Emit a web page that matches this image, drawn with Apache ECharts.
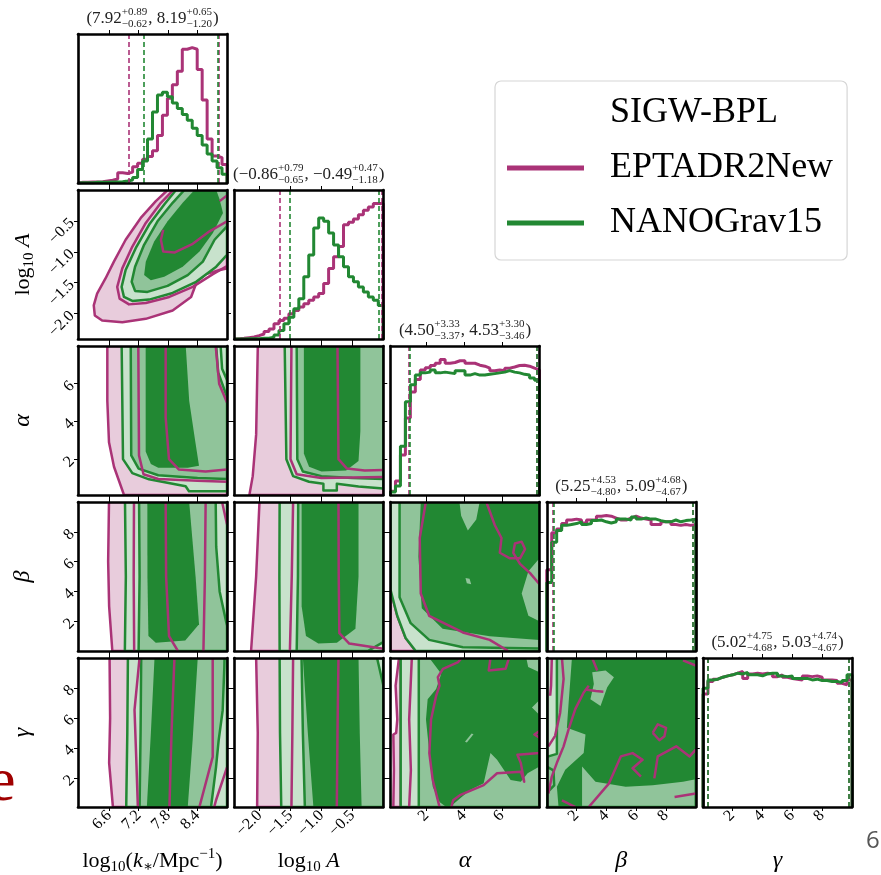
<!DOCTYPE html>
<html>
<head>
<meta charset="utf-8">
<script src="https://cdn.jsdelivr.net/npm/echarts@6/dist/echarts.min.js"></script>
<style>
  html, body { margin: 0; padding: 0; background: #fff; }
  #chart { width: 881px; height: 875px; }
</style>
</head>
<body>
<div id="chart"></div>
<script>
// -----------------------------
// DATA
// -----------------------------
const paramNames = ["logk", "logA", "alpha", "beta", "gamma"];
const ranges = [[5.966, 9.0], [-2.41, 0.0], [0.1, 8.0], [0.0, 10.0], [0.05, 10.0]];
const tickValues = [
  [6.6, 7.2, 7.8, 8.4],
  [-2.0, -1.5, -1.0, -0.5],
  [2, 4, 6],
  [2, 4, 6, 8],
  [2, 4, 6, 8]
];
const tickDecimals = [1, 1, 0, 0, 0];

// median, +err, -err  (first = NANOGrav15, second = EPTADR2New)
const statsNano = [[7.92, 0.89, 0.62], [-0.86, 0.79, 0.65], [4.50, 3.33, 3.37], [5.25, 4.53, 4.80], [5.02, 4.75, 4.68]];
const statsEpta = [[8.19, 0.65, 1.20], [-0.49, 0.47, 1.18], [4.53, 3.30, 3.46], [5.09, 4.68, 4.67], [5.03, 4.74, 4.67]];

// 1D histograms, 30 bins over each range
const histEpta_logk = [2, 2, 3, 3, 4, 6, 8, 12, 30, 28, 32, 48, 58, 70, 78, 95, 140, 200, 250, 290, 330, 395, 400, 395, 335, 245, 130, 80, 75, 55];
const histNano_logk = [1, 1, 1, 2, 2, 2, 3, 3, 4, 6, 9, 16, 40, 65, 130, 210, 260, 268, 255, 236, 220, 202, 185, 162, 140, 112, 86, 65, 45, 26];
const histEpta_logA = [1, 2, 4, 6, 10, 15, 22, 30, 45, 55, 62, 75, 85, 95, 105, 115, 125, 135, 165, 210, 245, 275, 340, 347, 357, 370, 383, 393, 403, 403];
const histNano_logA = [0, 0, 1, 1, 1, 2, 2, 5, 12, 25, 45, 65, 90, 120, 185, 250, 330, 360, 350, 315, 280, 245, 215, 185, 170, 155, 140, 125, 115, 100];
const histEpta_alpha = [2.5, 9.5, 27, 52, 69.5, 78, 84.5, 86, 87.5, 89, 91.5, 89, 89.5, 90.7, 90.7, 89, 89, 87.7, 87, 85.7, 84, 84.5, 84, 85.7, 86.5, 87.5, 87.7, 87, 85.7, 84.5];
const histNano_alpha = [2, 6, 33, 63, 74.5, 81, 82.5, 83, 84.5, 82.5, 83, 82.5, 82, 84, 84, 81, 82, 81, 81, 81.5, 82, 82.5, 83, 84, 83, 82.5, 81.5, 81, 79, 77.5];
const histEpta_beta = [54.6, 79.4, 82, 85.6, 88, 88.6, 88, 86, 88, 88, 90.6, 91, 90.6, 89.3, 88, 88, 89.3, 90.6, 89.3, 88.6, 88, 85, 85, 86.8, 86.8, 85, 84.4, 85, 84.4, 85];
const histNano_beta = [46, 73, 81, 84.4, 85, 85.6, 86.8, 85, 85.6, 87.6, 88, 86.8, 86, 86.8, 88.6, 88.6, 88, 90, 88.6, 89.3, 88.6, 88.6, 87.6, 86.8, 86.8, 88, 86.8, 87.6, 88, 88.6];
const histEpta_gamma = [75.6, 84, 85.5, 86.8, 87.7, 88.4, 89.5, 90.6, 86, 89, 89.5, 89, 89.5, 89, 87.2, 88.4, 86.8, 86, 85.5, 85, 87.7, 87.2, 87.7, 86.8, 85, 85, 84.6, 82.8, 81.7, 85];
const histNano_gamma = [79.4, 85, 85.5, 86.8, 87.7, 88.4, 89.5, 89, 90, 88.4, 88.4, 87.7, 89, 89.5, 89.5, 87.7, 87.2, 87.7, 86, 86, 86, 85, 85.5, 84.6, 84.6, 84, 84, 83.2, 84.6, 88.4];

// 2D contours: [x, y] vertices in data units
// row logA / col logk
const A_k_pink = [[7.790, 0], [7.551, -0.180], [7.244, -0.452], [6.936, -0.805], [6.697, -1.159], [6.526, -1.431], [6.355, -1.676], [6.287, -1.866], [6.308, -2.029], [6.458, -2.111], [6.868, -2.138], [7.346, -2.084], [7.893, -1.948], [8.269, -1.730], [8.385, -1.485], [8.576, -1.360], [8.850, -1.295], [9.0, -1.268], [9.0, 0]];
const A_k_green = [
  [[7.961, 0], [7.722, -0.234], [7.415, -0.560], [7.141, -0.941], [6.936, -1.295], [6.854, -1.567], [6.902, -1.730], [7.073, -1.795], [7.415, -1.773], [7.893, -1.665], [8.371, -1.485], [8.781, -1.240], [9.0, -1.050], [9.0, 0]],
  [[8.132, 0], [7.893, -0.207], [7.585, -0.506], [7.312, -0.887], [7.128, -1.240], [7.059, -1.485], [7.128, -1.632], [7.380, -1.648], [7.790, -1.550], [8.200, -1.376], [8.508, -1.159], [8.747, -0.805], [9.0, -0.588], [9.0, 0]],
  [[8.337, 0], [8.098, -0.207], [7.790, -0.506], [7.517, -0.832], [7.346, -1.159], [7.312, -1.376], [7.449, -1.458], [7.722, -1.404], [8.098, -1.240], [8.440, -0.996], [8.713, -0.696], [8.918, -0.370], [8.850, -0.152], [8.781, 0]]
];
const A_k_pinkLines = [
  [[7.907, 0], [7.654, -0.207], [7.346, -0.533], [7.073, -0.914], [6.868, -1.268], [6.765, -1.567], [6.813, -1.757], [7.005, -1.850], [7.346, -1.828], [7.825, -1.730], [8.303, -1.567], [8.713, -1.360], [9.0, -1.229]],
  [[7.702, -0.642], [7.654, -0.805], [7.702, -0.996], [7.927, -1.012], [8.303, -0.870], [8.645, -0.669], [9.0, -0.506]],
  [[8.850, -0.180], [9.0, -0.087]]
];

// row alpha / col logk
const a_k_pink = [[6.563, 8], [6.563, 5.1], [6.597, 2.9], [6.699, 1.6], [6.903, 0.1], [9, 0.1], [9, 8]];
const a_k_green = [
  [[6.855, 8], [6.882, 2.0], [7.072, 1.26], [7.412, 0.93], [8.158, 0.56], [8.226, 0.30], [9, 0.30], [9, 8]],
  [[7.04, 8], [7.05, 2.2], [7.2, 1.5], [7.6, 1.15], [8.4, 1.0], [9, 0.95], [9, 5.3], [8.82, 6.6], [8.78, 8]],
  [[7.344, 8], [7.344, 2.4], [7.45, 1.75], [7.6, 1.55], [8.2, 1.55], [8.43, 1.65], [8.35, 3.0], [8.23, 5.1], [8.16, 8]]
];
const a_k_pinkLines = [
  [[7.194, 8], [7.208, 2.2], [7.30, 1.2], [7.6, 0.95], [8.4, 0.85], [9, 0.8]],
  [[8.77, 8], [8.84, 6.0], [9, 5.0]],
  [[7.751, 8], [7.751, 4.2], [7.819, 2.0], [8.022, 1.45], [8.565, 1.35], [9, 1.45]]
];
const a_k_greenLines = [[[8.87, 8], [8.9, 6.8], [9, 6.2]]];

// row alpha / col logA
const a_A_pink = [[-2.029, 8], [-2.056, 3.3], [-2.111, 1.1], [-2.165, 0.1], [0, 0.1], [0, 8]];
const a_A_green = [
  [[-1.594, 8], [-1.567, 2.0], [-1.458, 1.1], [-1.2, 0.8], [-0.968, 0.7], [-0.968, 0.34], [-0.751, 0.34], [-0.751, 0.7], [-0.4, 0.55], [0, 0.45], [0, 8]],
  [[-1.40, 8], [-1.39, 2.0], [-1.30, 1.35], [-1.0, 1.1], [-0.5, 1.0], [0, 0.95], [0, 8]],
  [[-1.284, 8], [-1.284, 2.3], [-1.20, 1.6], [-1.0, 1.35], [-0.6, 1.4], [-0.40, 1.9], [-0.37, 3.5], [-0.37, 8]]
];
const a_A_pinkLines = [
  [[-1.485, 8], [-1.50, 2.0], [-1.40, 1.2], [-1.0, 1.0], [0, 1.05]],
  [[-0.74, 8], [-0.724, 2.0], [-0.588, 1.5], [-0.3, 1.4], [0, 1.42]]
];

// row beta / col logk
const b_k_pink = [[6.597, 10], [6.58, 6], [6.60, 3], [6.665, 0], [9, 0], [9, 10]];
const b_k_green = [
  [[6.923, 10], [6.94, 5], [6.92, 0], [9, 0], [9, 10]],
  [[7.21, 10], [7.22, 5], [7.20, 0], [9, 0], [9, 1.7], [8.85, 4.0], [8.78, 7], [8.77, 10]],
  [[7.378, 10], [7.38, 5], [7.40, 1.0], [7.55, 0.55], [8.15, 0.7], [8.43, 1.8], [8.36, 5], [8.23, 10]]
];
const b_k_pinkLines = [
  [[7.106, 10], [7.10, 5], [7.11, 0]],
  [[8.565, 10], [8.55, 5], [8.52, 0]],
  [[7.751, 10], [7.76, 5], [7.82, 1.0], [8.0, 0]],
  [[8.90, 10], [9, 8.5]]
];

// row beta / col logA
const b_A_pink = [[-2.002, 10], [-2.056, 5], [-2.138, 0], [0, 0], [0, 10]];
const b_A_green = [
  [[-1.676, 10], [-1.68, 5], [-1.676, 0], [0, 0], [0, 10]],
  [[-1.376, 10], [-1.38, 5], [-1.40, 0], [-0.25, 0], [0, 0.6], [0, 10]],
  [[-1.32, 10], [-1.32, 3], [-1.25, 1.0], [-1.05, 0.5], [-0.75, 0.55], [-0.45, 1.5], [-0.40, 5], [-0.40, 10]]
];
const b_A_pinkLines = [
  [[-1.458, 10], [-1.48, 5], [-1.51, 0]],
  [[-0.724, 10], [-0.72, 5], [-0.71, 1.2], [-0.55, 0.5], [0, 0.15]]
];

// row beta / col alpha
const b_a_pink = [[0.1, 4.104], [0.457, 2.363], [0.902, 0.871], [1.437, 0], [0.1, 0]];
const b_a_green = [
  [[0.1, 10], [0.1, 4.104], [0.457, 2.363], [0.902, 0.871], [1.437, 0], [8, 0], [8, 10]],
  [[0.581, 10], [0.581, 3.607], [1.170, 1.866], [2.151, 0.746], [3.934, 0.249], [8, 0.174], [8, 10]],
  [[1.705, 10], [1.580, 6.343], [1.758, 2.861], [2.864, 1.493], [5.361, 0.995], [8, 0.746], [8, 1.990], [7.412, 2.363], [7.055, 3.856], [7.412, 5.348], [8, 6.219], [8, 10], [4.826, 10], [4.647, 8.831], [4.202, 8.085], [3.845, 9.080], [3.756, 10]]
];
const b_a_patch = [[[4.077, 4.900], [4.291, 4.851], [4.380, 4.478], [4.148, 4.552]]];
const b_a_pinkLines = [
  [[1.972, 10], [1.651, 7.587], [1.705, 3.856], [2.151, 2.363], [3.934, 1.244], [5.361, 0.746], [6.342, 0]],
  [[5.182, 10], [5.628, 8.458], [5.985, 7.587], [5.896, 6.592], [6.431, 6.219], [6.966, 6.219], [7.233, 6.841], [7.055, 7.338], [6.698, 7.214], [6.609, 6.592], [6.966, 5.846], [7.501, 5.224], [8, 4.478]]
];

// row gamma / col logk
const g_k_pink = [[6.609, 10], [6.62, 6], [6.60, 3], [6.677, 0.05], [9, 0.05], [9, 10]];
const g_k_green = [
  [[6.982, 10], [6.97, 5], [6.948, 0.05], [9, 0.05], [9, 10]],
  [[7.253, 10], [7.24, 5], [7.22, 0.05], [8.675, 0.05], [8.776, 2.7], [8.83, 4.5], [8.912, 6.5], [8.946, 9.4], [8.95, 10]],
  [[7.524, 10], [7.45, 5], [7.368, 0.05], [8.201, 0.05], [8.30, 4.5], [8.404, 10]]
];
const g_k_pinkLines = [
  [[7.219, 10], [7.117, 6.53], [7.151, 3.4], [7.185, 0.05]],
  [[8.709, 10], [8.709, 3.4], [8.438, 0.05]],
  [[7.930, 10], [7.87, 5], [7.828, 0.05]],
  [[9, 2.7], [8.776, 0.5], [8.74, 0.05]]
];

// row gamma / col logA
const g_A_pink = [[-2.056, 10], [-2.03, 5], [-2.04, 0.05], [0, 0.05], [0, 10]];
const g_A_green = [
  [[-1.676, 10], [-1.67, 5], [-1.65, 0.05], [0, 0.05], [0, 10]],
  [[-1.322, 10], [-1.30, 5], [-1.268, 0.05], [0, 0.05], [0, 8.2], [-0.10, 10]],
  [[-1.30, 10], [-1.22, 5], [-1.13, 0.05], [-0.35, 0.05], [-0.38, 5], [-0.40, 10]]
];
const g_A_pinkLines = [
  [[-1.458, 10], [-1.47, 5], [-1.485, 0.05]],
  [[-0.724, 10], [-0.74, 5], [-0.751, 0.05]]
];

// row gamma / col alpha
const g_a_pink = [[0.55, 10], [0.37, 8.15], [0.46, 5.9], [0.40, 5.0], [0.25, 4.89], [0.28, 2.5], [0.25, 0.05], [0.64, 0.05], [0.64, 10]];
const g_a_green = [
  [[0.64, 10], [8, 10], [8, 0.05], [0.64, 0.05]],
  [[1.6, 10], [8, 10], [8, 0.05], [1.6, 0.05]],
  [[2.16, 10], [2.79, 8.94], [2.52, 7.93], [2.07, 7.25], [1.98, 5.90], [2.16, 3.65], [2.34, 1.40], [2.70, 0.39], [3.06, 0.05], [3.25, 0.05], [4.32, 1.18], [5.04, 1.63], [5.40, 3.65], [5.75, 3.20], [6.47, 1.85], [7.01, 1.74], [7.37, 2.30], [8, 2.75], [8, 6.2], [7.6, 6.7], [8, 7.2], [8, 9.05], [7.4, 9.4], [7.3, 10]]
];
const g_a_patch = [[[4.05, 4.4], [4.4, 4.95], [4.5, 4.9], [4.15, 4.35]]];
const g_a_pinkLines = [
  [[1.23, 10], [1.09, 5.9], [1.18, 2.5], [1.09, 0.05]],
  [[3.87, 10], [3.69, 9.73], [2.88, 9.28], [2.61, 8.72], [2.70, 8.15], [2.52, 7.48], [2.25, 5.90], [2.16, 3.65], [2.34, 1.85], [2.61, 0.50], [2.7, 0.05]],
  [[5.40, 10], [5.31, 9.17], [6.20, 9.28], [6.38, 10]],
  [[8, 5.12], [7.73, 4.89], [8, 4.67]],
  [[8, 3.65], [6.83, 3.54], [7.01, 2.98], [7.19, 1.74], [7.01, 2.41], [5.75, 2.30], [5.04, 1.51], [3.78, 0.84], [3.42, 0.50], [3.33, 0.05]]
];

// row gamma / col beta
const g_b_green = [
  [[0, 10], [10, 10], [10, 0.05], [0, 0.05]],
  [[0.68, 10], [10, 10], [10, 0.05], [0, 0.05], [0, 3.4], [0.68, 3.6]],
  [[1.69, 10], [1.47, 7.03], [1.35, 5.34], [2.60, 4.89], [2.48, 3.65], [1.24, 2.53], [0.68, 1.40], [0.79, 0.05], [2.37, 0.05], [2.37, 2.75], [3.27, 1.74], [5.30, 1.40], [7.11, 1.51], [9.14, 1.74], [10, 1.90], [10, 10]]
];
const g_b_patch = [[[3.05, 9.05], [3.95, 9.17], [4.51, 8.72], [4.06, 8.04], [3.61, 6.80], [2.93, 7.25], [3.16, 8.27]]];
const g_b_greenLines = [[[0, 2.75], [0.45, 2.5], [0.5, 1.5], [0, 1.0]]];
const g_b_pinkLines = [
  [[0.34, 10], [0.29, 8.15], [0.23, 7.48]],
  [[1.02, 10], [1.13, 8.6], [0.9, 6.35], [0.56, 4.8], [0.11, 4.1]],
  [[3.05, 10], [3.39, 9.17]],
  [[2.82, 8.15], [2.48, 7.7], [1.92, 6.6], [1.47, 5.25], [1.13, 4.1], [0.68, 3.0], [0.34, 2.08], [0.11, 0.95]],
  [[2.6, 7.9], [3.3, 7.8], [3.8, 7.75]],
  [[7.11, 5.0], [7.45, 5.57], [8.01, 5.34], [7.9, 4.78], [7.56, 4.51], [7.22, 4.89], [7.11, 5.0]],
  [[2.82, 0.05], [4.18, 1.63], [4.97, 3.43], [5.76, 3.65], [6.43, 3.20], [5.76, 2.64], [6.32, 2.08]],
  [[7.22, 1.96], [7.45, 3.43], [8.69, 4.10], [9.59, 3.43], [10, 3.88]],
  [[8.58, 0.72], [10, 0.95]],
  [[9.14, 9.84], [10, 9.5]],
  [[1.02, 0.5], [1.92, 0.05]]
];

// -----------------------------
// STYLE
// -----------------------------
const SERIF = '"Liberation Serif", "DejaVu Serif", serif';
const PINK = "#AA3377";
const GREEN = "#228833";
const PINK_FILL = "#e8ccdc";
const G_LIGHT = "#c8e2cc";
const G_MID = "#90c49a";
const G_DARK = "#228833";

const CELL = 149;
const cellLeft = c => 78 + c * 156.25;
const cellTop = r => 34 + r * 156;

const histEpta = [histEpta_logk, histEpta_logA, histEpta_alpha, histEpta_beta, histEpta_gamma];
const histNano = [histNano_logk, histNano_logA, histNano_alpha, histNano_beta, histNano_gamma];

const panels = [
  { r: 1, c: 0, pink: A_k_pink, green: A_k_green, pinkLines: A_k_pinkLines },
  { r: 2, c: 0, pink: a_k_pink, green: a_k_green, pinkLines: a_k_pinkLines, greenLines: a_k_greenLines },
  { r: 2, c: 1, pink: a_A_pink, green: a_A_green, pinkLines: a_A_pinkLines },
  { r: 3, c: 0, pink: b_k_pink, green: b_k_green, pinkLines: b_k_pinkLines },
  { r: 3, c: 1, pink: b_A_pink, green: b_A_green, pinkLines: b_A_pinkLines },
  { r: 3, c: 2, pink: b_a_pink, green: b_a_green, patch: b_a_patch, pinkLines: b_a_pinkLines },
  { r: 4, c: 0, pink: g_k_pink, green: g_k_green, pinkLines: g_k_pinkLines },
  { r: 4, c: 1, pink: g_A_pink, green: g_A_green, pinkLines: g_A_pinkLines },
  { r: 4, c: 2, pink: g_a_pink, green: g_a_green, patch: g_a_patch, pinkLines: g_a_pinkLines },
  { r: 4, c: 3, pink: [], green: g_b_green, patch: g_b_patch, pinkLines: g_b_pinkLines, greenLines: g_b_greenLines }
];

const richName = {
  r: { fontFamily: SERIF, fontSize: 22, lineHeight: 28, color: "#000" },
  i: { fontFamily: SERIF, fontSize: 22, fontStyle: "italic", lineHeight: 28, color: "#000" },
  g: { fontFamily: SERIF, fontSize: 24, fontStyle: "italic", lineHeight: 28, color: "#000" },
  sub: { fontFamily: SERIF, fontSize: 15, lineHeight: 15, verticalAlign: "bottom", color: "#000" },
  sup: { fontFamily: SERIF, fontSize: 15, lineHeight: 15, verticalAlign: "top", color: "#000" }
};
const axisNames = [
  "{r|log}{sub|10}{r|(}{i|k}{sub|∗}{r|/Mpc}{sup|−1}{r|)}",
  "{r|log}{sub|10}{r| }{i|A}",
  "{g|α}",
  "{g|β}",
  "{g|γ}"
];

const fmtTick = c => v => {
  const s = Math.abs(v).toFixed(tickDecimals[c]);
  return v < 0 ? "−" + s : s;
};

// -----------------------------
// BUILD
// -----------------------------
const grids = [], xAxes = [], yAxes = [], series = [];

function stepPoints(counts, range) {
  const w = (range[1] - range[0]) / counts.length;
  const pts = [[range[0], 0]];
  counts.forEach((v, k) => {
    pts.push([range[0] + k * w, v], [range[0] + (k + 1) * w, v]);
  });
  pts.push([range[1], 0]);
  return pts;
}

function addCell(r, c, yRange, diag) {
  const g = grids.length;
  grids.push({ left: cellLeft(c), top: cellTop(r), width: CELL, height: CELL, containLabel: false, outerBoundsMode: "none" });

  const frame = { show: true, onZero: false, lineStyle: { color: "#000", width: 2.6 } };
  const bottomRow = r === 4;
  const xCommon = {
    gridIndex: g, type: "value", min: ranges[c][0], max: ranges[c][1], z: 10,
    splitLine: { show: false }, axisLine: frame,
    axisTick: { show: true, inside: false, length: 4, customValues: tickValues[c], lineStyle: { color: "#000", width: 1 } }
  };
  const xb = xAxes.length;
  xAxes.push(Object.assign({}, xCommon, {
    position: "bottom",
    axisLabel: {
      show: bottomRow, customValues: tickValues[c], rotate: 45, margin: 6,
      formatter: fmtTick(c), fontFamily: SERIF, fontSize: 16, color: "#000"
    },
    name: bottomRow ? axisNames[c] : "",
    nameLocation: "middle", nameGap: 40,
    nameTextStyle: { rich: richName }
  }));
  xAxes.push(Object.assign({}, xCommon, { position: "top", axisLabel: { show: false } }));

  const leftCol = c === 0 && !diag;
  const yCommon = {
    gridIndex: g, type: "value", min: yRange[0], max: yRange[1], z: 10,
    splitLine: { show: false }, axisLine: frame,
    axisTick: diag ? { show: false } : { show: true, inside: false, length: 4, customValues: tickValues[r], lineStyle: { color: "#000", width: 1 } }
  };
  const yl = yAxes.length;
  yAxes.push(Object.assign({}, yCommon, {
    position: "left",
    axisLabel: leftCol ? {
      show: true, customValues: tickValues[r], rotate: 45, margin: 6,
      formatter: fmtTick(r), fontFamily: SERIF, fontSize: 16, color: "#000"
    } : { show: false },
    name: leftCol ? axisNames[r] : "",
    nameLocation: "middle", nameGap: 41,
    nameTextStyle: { rich: richName }
  }));
  yAxes.push(Object.assign({}, yCommon, { position: "right", axisLabel: { show: false } }));
  return { xb, yl };
}

// diagonal histograms
for (let i = 0; i < 5; i++) {
  const ymax = 1.1 * Math.max(...histEpta[i], ...histNano[i]);
  const ax = addCell(i, i, [0, ymax], true);
  [[histEpta[i], PINK, "EPTADR2New", statsEpta[i]], [histNano[i], GREEN, "NANOGrav15", statsNano[i]]].forEach(([h, col, name, st]) => {
    series.push({
      type: "line", name, xAxisIndex: ax.xb, yAxisIndex: ax.yl,
      data: stepPoints(h, ranges[i]), showSymbol: false, symbol: "none",
      color: col, lineStyle: { color: col, width: 3 }, z: 4, silent: true,
      markLine: {
        silent: true, symbol: ["none", "none"], label: { show: false },
        lineStyle: { color: col, type: [5, 3], width: 1.6 },
        data: [{ xAxis: st[0] - st[2] }, { xAxis: st[0] + st[1] }]
      }
    });
  });
}

// 2D panels
panels.forEach(p => {
  const ax = addCell(p.r, p.c, ranges[p.r], false);
  const shapes = [];
  if (p.pink.length) shapes.push({ pts: p.pink, fill: PINK_FILL, stroke: PINK });
  shapes.push({ pts: p.green[0], fill: G_LIGHT, stroke: GREEN });
  shapes.push({ pts: p.green[1], fill: G_MID, stroke: GREEN });
  shapes.push({ pts: p.green[2], fill: G_DARK });
  (p.patch || []).forEach(q => shapes.push({ pts: q, fill: G_MID }));
  (p.greenLines || []).forEach(q => shapes.push({ pts: q, stroke: GREEN }));
  p.pinkLines.forEach(q => shapes.push({ pts: q, stroke: PINK }));

  series.push({
    type: "custom", name: "contours", xAxisIndex: ax.xb, yAxisIndex: ax.yl,
    clip: true, silent: true, z: 2,
    data: shapes.map(s => s.pts[0]),
    renderItem: (params, api) => {
      const s = shapes[params.dataIndex];
      const pts = s.pts.map(v => api.coord(v));
      if (s.fill) {
        return {
          type: "polygon", shape: { points: pts },
          style: { fill: s.fill, stroke: s.stroke || null, lineWidth: s.stroke ? 2.5 : 0, lineJoin: "round" }
        };
      }
      return { type: "polyline", shape: { points: pts }, style: { fill: null, stroke: s.stroke, lineWidth: 2.5, lineJoin: "round" } };
    }
  });
});

series.push({ type: "line", name: "SIGW-BPL", xAxisIndex: 0, yAxisIndex: 0, data: [] });

// titles above the diagonal
const measureCtx = document.createElement("canvas").getContext("2d");
function textWidth(s, size) {
  measureCtx.font = size + "px " + SERIF;
  return measureCtx.measureText(s).width;
}
const fmtNum = v => (v < 0 ? "−" : "") + Math.abs(v).toFixed(2);

function titleGraphic(c) {
  const MAIN = 17, SCR = 11;
  const a = statsNano[c], b = statsEpta[c];
  const parts = [
    { main: "(" + fmtNum(a[0]), up: "+" + a[1].toFixed(2), dn: "−" + a[2].toFixed(2) },
    { main: ", " + fmtNum(b[0]), up: "+" + b[1].toFixed(2), dn: "−" + b[2].toFixed(2) },
    { main: ")" }
  ];
  let total = 0;
  parts.forEach(p => {
    p.wm = textWidth(p.main, MAIN);
    p.ws = p.up ? Math.max(textWidth(p.up, SCR), textWidth(p.dn, SCR)) + 1 : 0;
    total += p.wm + p.ws;
  });
  const cy = cellTop(c) - 15;
  let x = cellLeft(c) + CELL / 2 - total / 2;
  const kids = [];
  const txt = (s, px, py, size) => kids.push({
    type: "text", x: px, y: py,
    style: { text: s, fontSize: size, fontFamily: SERIF, fill: "#222", verticalAlign: "middle", textVerticalAlign: "middle" }
  });
  parts.forEach(p => {
    txt(p.main, x, cy, MAIN);
    x += p.wm;
    if (p.up) {
      txt(p.up, x, cy - 7, SCR);
      txt(p.dn, x, cy + 5, SCR);
      x += p.ws;
    }
  });
  return { type: "group", children: kids };
}

const graphics = [0, 1, 2, 3, 4].map(titleGraphic);
graphics.push({
  type: "text", x: -12, y: 784,
  style: { text: "e", fontSize: 62, fontFamily: SERIF, fill: "#a00000", verticalAlign: "middle", textVerticalAlign: "middle" }
});
graphics.push({
  type: "text", x: 866, y: 841,
  style: { text: "6", fontSize: 24, fontFamily: '"Open Sans", "DejaVu Sans", sans-serif', fill: "#555", verticalAlign: "middle", textVerticalAlign: "middle" }
});

const chart = echarts.init(document.getElementById("chart"), null, { renderer: "canvas" });
chart.setOption({
  animation: false,
  backgroundColor: "#fff",
  grid: grids,
  xAxis: xAxes,
  yAxis: yAxes,
  legend: {
    left: 495, top: 81, orient: "vertical", selectedMode: false,
    padding: [14, 14, 19, 12], itemGap: 19, itemWidth: 77, itemHeight: 5, icon: "rect",
    backgroundColor: "#fff", borderColor: "#d6d6d6", borderWidth: 1.2, borderRadius: 6,
    textStyle: { fontFamily: SERIF, fontSize: 36, color: "#000", lineHeight: 30, padding: [0, 0, 0, 21] },
    data: [{ name: "SIGW-BPL", itemStyle: { opacity: 0 } }, "EPTADR2New", "NANOGrav15"]
  },
  graphic: graphics,
  series
});
</script>
</body>
</html>
